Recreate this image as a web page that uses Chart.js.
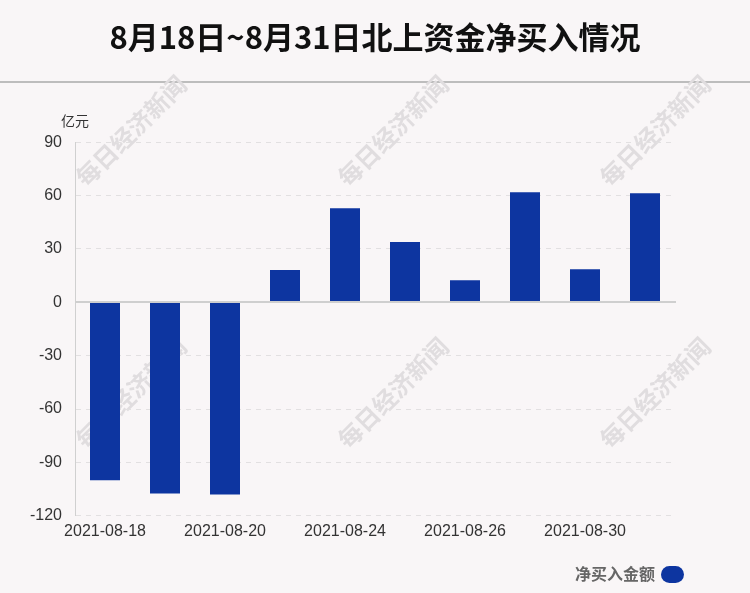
<!DOCTYPE html>
<html>
<head>
<meta charset="utf-8">
<script src="https://cdn.jsdelivr.net/npm/chart.js@4.4.0/dist/chart.umd.min.js"></script>
<style>
  html, body { margin: 0; padding: 0; background: #f9f6f7; }
  #wrap { width: 750px; height: 593px; position: relative; }
</style>
</head>
<body>
<div id="wrap"><canvas id="mycanvas"></canvas></div>
<script>
var dates = ['2021-08-18', '2021-08-19', '2021-08-20', '2021-08-23', '2021-08-24',
             '2021-08-25', '2021-08-26', '2021-08-27', '2021-08-30', '2021-08-31'];
var netBuy = [-100.0, -107.4, -108.0, 18.2, 52.9, 33.9, 12.4, 61.9, 18.6, 61.3];
var yMin = -120;
var yMax = 90;
var yStep = 30;

var titleText = '8月18日~8月31日北上资金净买入情况';
var unitText = '亿元';
var seriesName = '净买入金额';
var watermark = '每日经济新闻';
var barColor = '#0d35a0';

// header line, watermark, unit label, zero line and legend
var decor = {
  id: 'decor',
  beforeDraw: function(chart) {
    var ctx = chart.ctx;
    ctx.save();
    ctx.fillStyle = '#f9f6f7';
    ctx.fillRect(0, 0, chart.width, chart.height);
    ctx.fillStyle = '#bdbdbd';
    ctx.fillRect(0, 81, chart.width, 2);

    ctx.font = 'bold 24px "Noto Sans CJK SC"';
    ctx.fillStyle = '#e0dddf';
    ctx.textAlign = 'center';
    ctx.textBaseline = 'middle';
    var xs = [131, 393, 655];
    var ys = [131, 393];
    for (var i in xs) {
      for (var j in ys) {
        ctx.save();
        ctx.translate(xs[i], ys[j]);
        ctx.rotate(-Math.PI / 4);
        ctx.fillText(watermark, 0, 0);
        ctx.restore();
      }
    }
    ctx.restore();
  },
  afterDraw: function(chart) {
    var ctx = chart.ctx;
    var area = chart.chartArea;
    var y = chart.scales.y;
    ctx.save();

    var y0 = Math.round(y.getPixelForValue(0));
    ctx.strokeStyle = '#cfcfcf';
    ctx.lineWidth = 2;
    ctx.beginPath();
    ctx.moveTo(area.left, y0);
    ctx.lineTo(area.right + 1, y0);
    ctx.stroke();

    ctx.font = '14px "Noto Sans CJK SC"';
    ctx.fillStyle = '#333';
    ctx.textAlign = 'center';
    ctx.textBaseline = 'middle';
    ctx.fillText(unitText, area.left, 121);

    ctx.font = 'bold 16px "Noto Sans CJK SC"';
    ctx.fillStyle = '#666';
    ctx.textAlign = 'right';
    ctx.fillText(chart.data.datasets[0].label, 655, 574);
    ctx.fillStyle = chart.data.datasets[0].backgroundColor;
    ctx.beginPath();
    ctx.roundRect(661, 566, 23, 17, 8.5);
    ctx.fill();
    ctx.restore();
  }
};

var ctx = document.getElementById('mycanvas');

var barGraph = new Chart(ctx, {
  type: 'bar',
  data: {
    labels: dates,
    datasets: [
      {
        label: seriesName,
        backgroundColor: barColor,
        data: netBuy,
        barPercentage: 0.5,
        categoryPercentage: 1.0
      }
    ]
  },
  options: {
    responsive: true,
    maintainAspectRatio: false,
    animation: false,
    layout: { padding: { left: 0, right: 0, top: 0, bottom: 46 } },
    plugins: {
      legend: { display: false },
      tooltip: { enabled: false },
      title: {
        display: true,
        text: titleText,
        color: '#111',
        font: { family: '"Noto Sans CJK SC"', size: 31, weight: 'bold' },
        padding: { top: 19, bottom: 86 }
      }
    },
    scales: {
      x: {
        grid: { display: false, drawTicks: false },
        border: { display: false },
        ticks: {
          autoSkip: false,
          maxRotation: 0,
          padding: 6,
          color: '#333',
          font: { family: '"Liberation Sans"', size: 16 },
          callback: function(val, index) {
            return index % 2 === 0 ? this.getLabelForValue(val) : '';
          }
        }
      },
      y: {
        min: yMin,
        max: yMax,
        afterFit: function(scale) { scale.width = 75; },
        grid: {
          drawTicks: false,
          color: function(c) { return c.tick && c.tick.value === 0 ? 'rgba(0,0,0,0)' : '#e2e0e1'; },
          lineWidth: 1
        },
        border: { display: true, color: '#d0d0d0', width: 1, dash: [5, 5] },
        ticks: {
          stepSize: yStep,
          padding: 13,
          color: '#333',
          font: { family: '"Liberation Sans"', size: 16 }
        }
      },
      // empty right axis, only keeps the right margin
      yRight: {
        position: 'right',
        min: yMin,
        max: yMax,
        afterFit: function(scale) { scale.width = 75; },
        grid: { display: false, drawTicks: false },
        border: { display: false },
        ticks: { display: false }
      }
    }
  },
  plugins: [decor]
});
</script>
</body>
</html>
